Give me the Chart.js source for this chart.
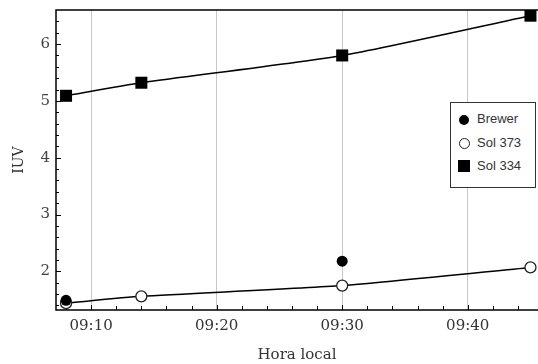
<!DOCTYPE html>
<html>
<head>
<meta charset="utf-8">
<script src="https://cdn.jsdelivr.net/npm/chart.js@4.4.0/dist/chart.umd.min.js"></script>
<style>
  html, body { margin: 0; padding: 0; background: #fff; }
  #wrap { position: relative; width: 538px; height: 364px; }
  #legend {
    position: absolute; left: 450px; top: 102px; width: 84px; height: 84px;
    border: 1px solid #333; background: #fff;
    font-family: "Liberation Sans", Arial, sans-serif; font-size: 13px; color: #333;
  }
  #legend .item { position: absolute; left: 0; height: 16px; line-height: 16px; }
  #legend .mk { position: absolute; box-sizing: border-box; }
  #legend .txt { position: absolute; left: 26px; white-space: nowrap; }
</style>
</head>
<body>
<div id="wrap">
  <canvas id="mychart" width="538" height="364"></canvas>
  <div id="legend"></div>
</div>
<script>
// minutes after 09:00
const solTimes = [8, 14, 30, 45];
const brewerTimes = [8, 30];
const brewerValues = [1.49, 2.18];
const sol373Values = [1.44, 1.56, 1.75, 2.07];
const sol334Values = [5.09, 5.32, 5.8, 6.5];
const xTickLabels = [10, 20, 30, 40];
const yTickLabels = [2, 3, 4, 5, 6];

function pts(xs, ys) {
  return xs.map((x, i) => ({x: x, y: ys[i]}));
}

// inward ticks + frame (top, left, bottom), drawn with the chart's scales
const frameTicks = {
  id: 'frameTicks',
  beforeDatasetsDraw(chart) {
    const ctx = chart.ctx;
    const a = chart.chartArea;
    const xs = chart.scales.x, ys = chart.scales.y;
    ctx.save();
    ctx.strokeStyle = '#000';
    ctx.lineWidth = 1;
    ctx.beginPath();
    for (let m = 8; m <= 44; m += 2) {
      const px = Math.round(xs.getPixelForValue(m)) + 0.5;
      const len = (m % 10 === 0) ? 5 : 4;
      ctx.moveTo(px, a.bottom);
      ctx.lineTo(px, a.bottom - len);
    }
    for (let v = 14; v <= 64; v += 2) {
      const py = Math.round(ys.getPixelForValue(v / 10)) + 0.5;
      const len = (v % 10 === 0) ? 5 : 3;
      ctx.moveTo(a.left, py);
      ctx.lineTo(a.left + len, py);
    }
    ctx.stroke();
    ctx.lineWidth = 1.5;
    ctx.beginPath();
    ctx.moveTo(a.right, a.top);
    ctx.lineTo(a.left, a.top);
    ctx.lineTo(a.left, a.bottom);
    ctx.lineTo(a.right, a.bottom);
    ctx.stroke();
    ctx.restore();
  }
};

const chart = document.getElementById('mychart').getContext('2d');
let uvChart = new Chart(chart, {
  type: 'scatter',
  data: {
    datasets: [
      {
        label: 'Brewer',
        data: pts(brewerTimes, brewerValues),
        showLine: false,
        pointStyle: 'circle',
        pointRadius: 5.5,
        backgroundColor: '#000',
        borderColor: '#000',
        borderWidth: 0,
      },
      {
        label: 'Sol 373',
        data: pts(solTimes, sol373Values),
        showLine: true,
        tension: 0.2,
        borderColor: '#000',
        borderWidth: 1.5,
        pointStyle: 'circle',
        pointRadius: 5.5,
        pointBackgroundColor: '#fff',
        pointBorderColor: '#222',
        pointBorderWidth: 1.3,
      },
      {
        label: 'Sol 334',
        data: pts(solTimes, sol334Values),
        showLine: true,
        tension: 0.2,
        borderColor: '#000',
        borderWidth: 1.5,
        pointStyle: 'rect',
        pointRadius: 8.5,
        pointBackgroundColor: '#000',
        pointBorderColor: '#000',
        pointBorderWidth: 0,
      }
    ]
  },
  options: {
    responsive: false,
    animation: false,
    layout: { autoPadding: false, padding: { top: 10, right: 0, left: 0, bottom: 0 } },
    plugins: { legend: { display: false }, tooltip: { enabled: false } },
    scales: {
      x: {
        type: 'linear',
        min: 7.2,
        max: 45.6,
        afterBuildTicks: (s) => { s.ticks = xTickLabels.map(v => ({value: v})); },
        afterFit: (s) => { s.height = 54; s.paddingLeft = 0; s.paddingRight = 0; },
        grid: { display: true, color: '#c8c8c8', lineWidth: 1, drawTicks: false },
        border: { display: false },
        ticks: {
          padding: 7,
          color: '#333',
          font: { family: '"DejaVu Serif", serif', size: 15 },
          callback: (v) => '09:' + String(v).padStart(2, '0'),
        },
        title: {
          display: true,
          text: 'Hora local',
          color: '#333',
          font: { family: '"DejaVu Serif", serif', size: 15 },
          padding: { top: 0, bottom: 0 },
        }
      },
      y: {
        min: 1.32,
        max: 6.6,
        afterBuildTicks: (s) => { s.ticks = yTickLabels.map(v => ({value: v})); },
        afterFit: (s) => { s.width = 56; s.paddingTop = 0; s.paddingBottom = 0; },
        grid: { display: false, drawTicks: false },
        border: { display: false },
        ticks: {
          padding: 6,
          color: '#444',
          font: { family: '"DejaVu Serif", serif', size: 15 },
        },
        title: {
          display: true,
          text: 'IUV',
          color: '#333',
          font: { family: '"DejaVu Serif", serif', size: 14 },
          padding: { top: 11, bottom: 0 },
        }
      }
    }
  },
  plugins: [frameTicks]
});

// legend built from the datasets
const legend = document.getElementById('legend');
const marks = [
  'left:8px;top:4px;width:10px;height:10px;border-radius:50%;background:#000;',
  'left:8px;top:3px;width:11px;height:11px;border-radius:50%;border:1.5px solid #222;background:#fff;',
  'left:7px;top:2px;width:12px;height:12px;background:#000;'
];
const tops = [8, 32, 55];
uvChart.data.datasets.forEach((ds, i) => {
  const it = document.createElement('div');
  it.className = 'item';
  it.style.top = tops[i] + 'px';
  it.style.width = '84px';
  it.innerHTML = '<span class="mk" style="' + marks[i] + '"></span><span class="txt">' + ds.label + '</span>';
  legend.appendChild(it);
});
</script>
</body>
</html>
